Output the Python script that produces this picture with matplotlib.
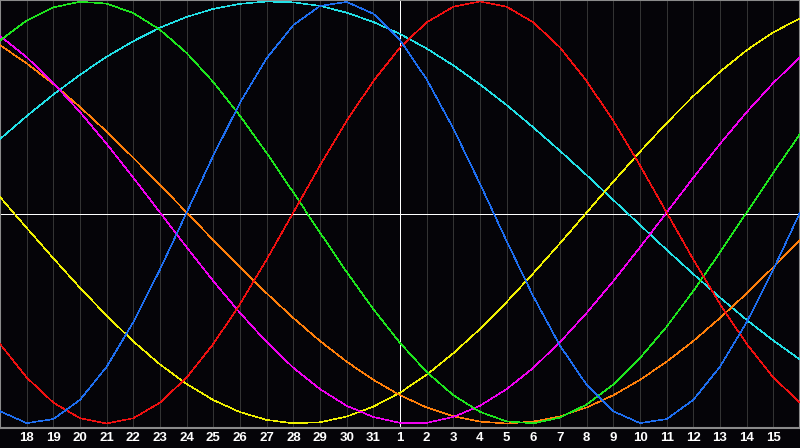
import numpy as np
import matplotlib
matplotlib.use("Agg")
import matplotlib.pyplot as plt

# day labels under each grid line (positions 1..29 of 0..30)
day_labels = [18, 19, 20, 21, 22, 23, 24, 25, 26, 27, 28, 29, 30, 31,
              1, 2, 3, 4, 5, 6, 7, 8, 9, 10, 11, 12, 13, 14, 15]

# daily values (positions 0..30)
blue = [-0.942, -0.998, -0.979, -0.888, -0.731, -0.520, -0.270, 0.000, 0.270, 0.520,
        0.731, 0.888, 0.979, 0.998, 0.942, 0.817, 0.631, 0.398, 0.136, -0.136,
        -0.398, -0.631, -0.817, -0.942, -0.998, -0.979, -0.888, -0.731, -0.520, -0.270, 0.000]
red = [-0.623, -0.782, -0.901, -0.975, -1.000, -0.975, -0.901, -0.782, -0.623, -0.434,
       -0.223, 0.000, 0.223, 0.434, 0.623, 0.782, 0.901, 0.975, 1.000, 0.975,
       0.901, 0.782, 0.623, 0.434, 0.223, 0.000, -0.223, -0.434, -0.623, -0.782, -0.901]
green = [0.815, 0.910, 0.972, 0.999, 0.990, 0.945, 0.866, 0.756, 0.618, 0.458,
         0.282, 0.095, -0.095, -0.282, -0.458, -0.618, -0.756, -0.866, -0.945, -0.990,
         -0.999, -0.972, -0.910, -0.815, -0.690, -0.541, -0.372, -0.189, 0.000, 0.189, 0.372]
magenta = [0.837, 0.736, 0.614, 0.476, 0.325, 0.165, 0.000, -0.165, -0.325, -0.476,
           -0.614, -0.736, -0.837, -0.916, -0.969, -0.997, -0.997, -0.969, -0.916, -0.837,
           -0.736, -0.614, -0.476, -0.325, -0.165, 0.000, 0.165, 0.325, 0.476, 0.614, 0.736]
yellow = [0.073, -0.073, -0.217, -0.357, -0.489, -0.611, -0.720, -0.813, -0.889, -0.946,
          -0.983, -0.999, -0.994, -0.967, -0.920, -0.854, -0.769, -0.667, -0.552, -0.424,
          -0.288, -0.146, 0.000, 0.146, 0.288, 0.424, 0.552, 0.667, 0.769, 0.854, 0.920]
orange = [0.793, 0.707, 0.609, 0.500, 0.383, 0.259, 0.131, 0.000, -0.131, -0.259,
          -0.383, -0.500, -0.609, -0.707, -0.793, -0.866, -0.924, -0.966, -0.991, -1.000,
          -0.991, -0.966, -0.924, -0.866, -0.793, -0.707, -0.609, -0.500, -0.383, -0.259, -0.131]
cyan = [0.348, 0.457, 0.559, 0.653, 0.738, 0.812, 0.876, 0.927, 0.965, 0.989,
        1.000, 0.996, 0.979, 0.947, 0.903, 0.846, 0.777, 0.697, 0.607, 0.509,
        0.403, 0.292, 0.177, 0.059, -0.059, -0.177, -0.292, -0.403, -0.509, -0.607, -0.697]

series = [
    (cyan, "#22e0e6"),
    (yellow, "#f0f000"),
    (orange, "#ff7f0a"),
    (magenta, "#f000f0"),
    (green, "#1ee61e"),
    (red, "#f01010"),
    (blue, "#1e6ef0"),
]

W, H = 800, 448
fig = plt.figure(figsize=(W / 100, H / 100), dpi=100)
fig.patch.set_facecolor("#050408")
ax = fig.add_axes([0, 20 / H, 1, 428 / H])
ax.set_facecolor("#050408")

pos = np.arange(len(blue))
ax.set_xlim(0, 30)
ax.set_ylim(-1.0213, 1.0071)

lw = 0.5
for p in range(1, 30):
    if p == 15:
        continue
    ax.axvline(p, color="#333333", lw=lw, antialiased=False, zorder=1)
ax.axvline(15, color="white", lw=lw, antialiased=False, zorder=2)
ax.axhline(-0.007, color="white", lw=lw, antialiased=False, zorder=2)

for vals, col in series:
    ax.plot(pos, vals, color=col, lw=0.4, antialiased=False, zorder=3)

for s in ax.spines.values():
    s.set_color("#8a8a8a")
    s.set_linewidth(1.5)

ax.set_yticks([])
ax.set_xticks(pos[1:30])
ax.set_xticklabels([str(d) for d in day_labels], fontfamily="Liberation Sans",
                   fontweight="bold", fontsize=9.5, color="white")
ax.tick_params(axis="x", length=0, pad=3)

fig.savefig("out.png", dpi=100, facecolor=fig.get_facecolor())
